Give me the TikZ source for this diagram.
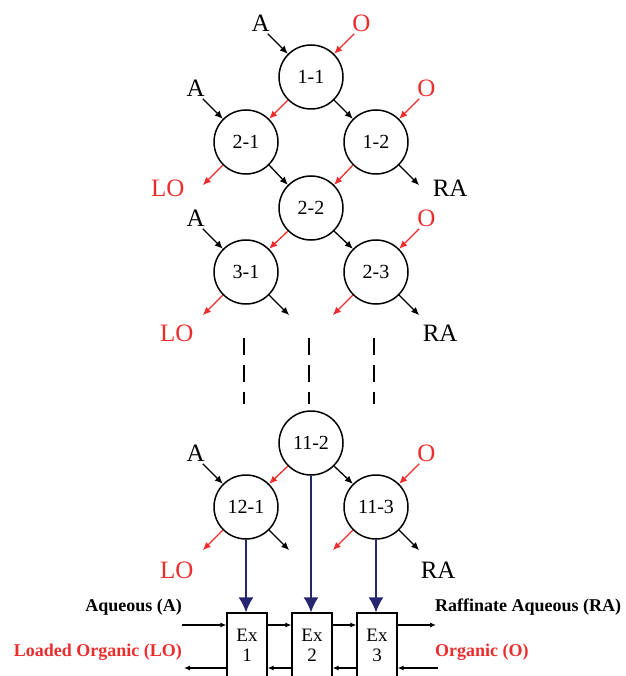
\documentclass[tikz,border=0pt]{standalone}
\usepackage{fontspec}
\setmainfont{Liberation Serif}
\usetikzlibrary{positioning,arrows.meta}
\definecolor{orgred}{RGB}{236,45,45}
\definecolor{feedblue}{RGB}{38,38,112}
\tikzset{
stage/.style={circle,draw,line width=1.5pt,minimum size=64pt,inner sep=0pt,font=\fontsize{20}{20}\selectfont},
exbox/.style={rectangle,draw,line width=1.3pt,minimum width=40pt,minimum height=64pt,inner sep=0pt,align=center,font=\fontsize{19}{20}\selectfont},
aq/.style={-{Latex[length=8pt,width=7pt]},line width=1.3pt},
org/.style={-{Latex[length=8pt,width=7pt]},line width=1.3pt,orgred},
pipe/.style={-{Latex[length=6pt,width=5pt]},line width=1.1pt},
lbl/.style={inner sep=0pt,font=\fontsize{25}{25}\selectfont},
flow/.style={inner sep=0pt,font=\fontsize{18}{18}\selectfont\bfseries},
}
\begin{document}
\begin{tikzpicture}[x=1pt,y=-1pt]
\def\dl{20}
\useasboundingbox (0,0) rectangle (625,676);
\node[stage] (s11) at (311,77) {1-1};
\node[stage] (s21) at (246,142) {2-1};
\node[stage] (s12) at (376,142) {1-2};
\node[stage] (s22) at (311,208) {2-2};
\node[stage] (s31) at (246,272) {3-1};
\node[stage] (s23) at (376,272) {2-3};
\node[stage] (s112) at (311,443) {11-2};
\node[stage] (s121) at (246,507) {12-1};
\node[stage] (s113) at (376,507) {11-3};
% feeds
\foreach \s in {s11,s21,s31,s121}{
\coordinate (inA-\s) at ([shift={(-\dl,-\dl)}]\s.north west);
\node[lbl,anchor=south east] (tA-\s) at ([shift={(2,-2)}]inA-\s) {A};
\draw[aq] (inA-\s) -- (\s);}
\foreach \s in {s11,s12,s23,s113}{
\coordinate (inO-\s) at ([shift={(\dl,-\dl)}]\s.north east);
\node[lbl,anchor=south west,text=orgred] (tO-\s) at ([shift={(-2,-2)}]inO-\s) {O};
\draw[org] (inO-\s) -- (\s);}
% between stages
\foreach \a/\b in {s11/s12,s21/s22,s22/s23,s112/s113}
\draw[aq] (\a.south east) -- (\b.north west);
\foreach \a/\b in {s11/s21,s12/s22,s22/s31,s112/s121}
\draw[org] (\a.south west) -- (\b.north east);
% products
\foreach \s/\tx/\ty in {s21/-35/3,s31/-26/18,s121/-26/20}{
\coordinate (outLO-\s) at ([shift={(-\dl,\dl)}]\s.south west);
\draw[org] (\s) -- (outLO-\s);
\node[lbl,text=orgred] (tLO-\s) at ([shift={(\tx,\ty)}]outLO-\s) {LO};}
\foreach \s/\tx/\ty in {s12/31/3,s23/21/18,s113/19/20}{
\coordinate (outRA-\s) at ([shift={(\dl,\dl)}]\s.south east);
\draw[aq] (\s) -- (outRA-\s);
\node[lbl] (tRA-\s) at ([shift={(\tx,\ty)}]outRA-\s) {RA};}
\foreach \s in {s31,s121}{
\coordinate (dn-\s) at ([shift={(\dl,\dl)}]\s.south east);
\draw[aq] (\s) -- (dn-\s);}
\foreach \s in {s23,s113}{
\coordinate (dn-\s) at ([shift={(-\dl,\dl)}]\s.south west);
\draw[org] (\s) -- (dn-\s);}
\foreach \x in {244,309,374}
\draw[line width=2pt,dash pattern=on 17pt off 10pt] (\x,338) -- (\x,404);
% extractors
\node[exbox] (ex1) at (247,645) {Ex\\1};
\node[exbox] (ex2) at (312,645) {Ex\\2};
\node[exbox] (ex3) at (377,645) {Ex\\3};
\foreach \s/\e in {s121/ex1,s112/ex2,s113/ex3}
\draw[feedblue,line width=1.5pt,-{Latex[length=15pt,width=15pt]}] (\s.south) -- (\s.south |- \e.north);
\coordinate (aqin) at (182,625);
\coordinate (raout) at (436,625);
\coordinate (loout) at (184,668);
\coordinate (oin) at (438,668);
\draw[pipe] (aqin) -- (aqin -| ex1.west);
\draw[pipe] (ex1.east |- aqin) -- (ex2.west |- aqin);
\draw[pipe] (ex2.east |- aqin) -- (ex3.west |- aqin);
\draw[pipe] (ex3.east |- raout) -- (raout);
\draw[pipe] (oin) -- (ex3.east |- oin);
\draw[pipe] (ex3.west |- oin) -- (ex2.east |- oin);
\draw[pipe] (ex2.west |- oin) -- (ex1.east |- oin);
\draw[pipe] (ex1.west |- loout) -- (loout);
\node[flow,anchor=east] (taq) at (182,607) {Aqueous (A)};
\node[flow,anchor=west] (tra) at (435,607) {Raffinate Aqueous (RA)};
\node[flow,anchor=east,text=orgred] (tlo) at (182,652) {Loaded Organic (LO)};
\node[flow,anchor=west,text=orgred] (to) at (435,652) {Organic (O)};
\end{tikzpicture}
\end{document}
